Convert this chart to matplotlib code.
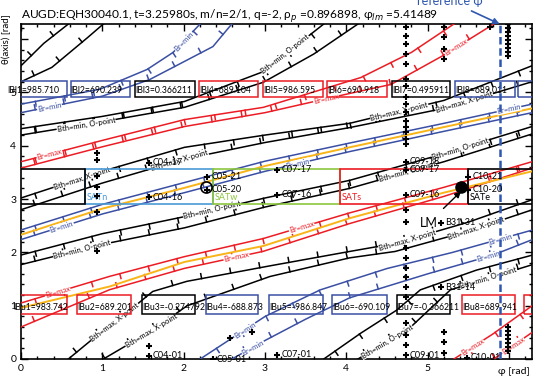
import matplotlib
matplotlib.use("Agg")
import matplotlib.pyplot as plt
import matplotlib.patheffects as pe
from matplotlib.patches import Rectangle
import numpy as np

plt.rcParams['font.family'] = ['Lato', 'DejaVu Sans']

TWO_PI = 2 * np.pi

BLACK = '#000000'
RED = '#ec1c24'
BLUE = '#3a4fa3'
YELLOW = '#f9b418'
LIGHTBLUE = '#4a9ad6'
GREEN = '#8cc63f'

# contour lines, (phi, theta); theta above 2pi wraps to the bottom
k1_phi = [0, 0.28, 0.58, 0.97, 1.34, 1.62, 2.04, 3.06, 4.04, 4.6, 5.5, 6.283]
k1_theta = [5.50, 5.92, 6.28, 6.77, 7.20, 7.55, 7.74, 8.03, 8.30, 8.45, 8.85, 9.27]
k2_phi = [0, 0.38, 0.6, 0.82, 1.01, 1.30, 1.67, 2.04, 3.06, 4.04, 4.6, 5.5, 6.283]
k2_theta = [5.20, 5.47, 5.75, 6.03, 6.28, 6.54, 6.88, 7.28, 7.83, 8.18, 8.30, 8.68, 9.08]
k3_phi = [0, 1.0, 2.01, 2.98, 3.72, 4.18, 4.62, 4.91, 5.6, 6.283]
k3_theta = [4.32, 4.55, 4.83, 5.39, 6.28, 6.77, 7.20, 7.58, 7.95, 8.23]
k4_phi = [0, 1.0, 2.01, 2.98, 3.6, 4.14, 4.79, 5.28, 6.283]
k4_theta = [4.20, 4.45, 4.72, 5.19, 5.72, 6.28, 6.88, 7.58, 8.05]
mid_phi = [0, 1.0, 2.01, 3.0, 4.04, 5.2, 6.283]
k5_theta = [3.02, 3.52, 3.97, 4.20, 4.42, 4.85, 5.50]
k6_theta = [2.80, 3.30, 3.75, 4.06, 4.34, 4.70, 5.20]
k7_theta = [1.95, 2.35, 2.67, 3.02, 3.35, 3.85, 4.36]
k8_theta = [1.77, 2.15, 2.46, 2.85, 3.20, 3.70, 4.22]

r1_phi = [0, 1.0, 2.01, 2.98, 4.18, 4.8, 5.32, 5.8, 6.283]
r1_theta = [3.70, 4.10, 4.49, 4.72, 5.28, 5.75, 6.28, 6.75, 7.28]
r2_phi = [0, 1.0, 2.01, 3.0, 4.04, 4.55, 5.2, 5.81, 6.283]
r2_theta = [3.58, 3.98, 4.36, 4.62, 4.98, 5.15, 5.70, 6.28, 6.78]
band_phi = [0, 1.09, 2.01, 2.98, 4.04, 5.2, 6.283]
r3_theta = [1.05, 1.55, 1.92, 2.26, 2.74, 3.22, 3.70]
r4_theta = [0.60, 1.30, 1.70, 2.02, 2.54, 3.05, 3.58]
y2_theta = [0.96, 1.36, 1.82, 2.12, 2.64, 3.12, 3.52]

b1_phi = [0, 0.97, 1.55, 1.87, 2.2, 2.7, 3.0, 3.68, 4.5, 5.3, 6.283]
b1_theta = [4.78, 5.06, 5.43, 5.75, 6.28, 6.78, 7.08, 7.58, 7.98, 8.28, 8.70]
b2_phi = [0, 1.0, 1.58, 1.87, 2.36, 2.59, 3.0, 3.5, 4.04, 5.0, 5.8, 6.283]
b2_theta = [4.62, 4.93, 5.24, 5.47, 5.86, 6.28, 6.63, 7.03, 7.43, 7.88, 8.23, 8.52]
b3_theta = [2.42, 2.90, 3.31, 3.71, 4.05, 4.42, 4.78]
y1_theta = [2.33, 2.82, 3.21, 3.62, 3.97, 4.35, 4.70]
b4_theta = [2.24, 2.72, 3.12, 3.52, 3.89, 4.27, 4.62]

# (phi, theta, colour, tick side)
lines = {
    'k1': (k1_phi, k1_theta, BLACK, 90),
    'k2': (k2_phi, k2_theta, BLACK, 90),
    'k3': (k3_phi, k3_theta, BLACK, -90),
    'k4': (k4_phi, k4_theta, BLACK, 90),
    'k5': (mid_phi, k5_theta, BLACK, -90),
    'k6': (mid_phi, k6_theta, BLACK, 90),
    'k7': (mid_phi, k7_theta, BLACK, -90),
    'k8': (mid_phi, k8_theta, BLACK, 90),
    'r1': (r1_phi, r1_theta, RED, -90),
    'r2': (r2_phi, r2_theta, RED, 90),
    'r3': (band_phi, r3_theta, RED, -90),
    'r4': (band_phi, r4_theta, RED, 90),
    'b1': (b1_phi, b1_theta, BLUE, -90),
    'b2': (b2_phi, b2_theta, BLUE, 90),
    'b3': (mid_phi, b3_theta, BLUE, -90),
    'b4': (mid_phi, b4_theta, BLUE, 90),
}
yellow_lines = [(band_phi, y2_theta), (mid_phi, y1_theta)]

line_labels = [
    ('k3', 3.25, 'Bth=min, O-point'), ('k4', 0.8, 'Bth=min, O-point'),
    ('b1', 2.0, 'Br=min'), ('b2', 0.35, 'Br=min'), ('r1', 0.35, 'Br=max'),
    ('k6', 1.95, 'Bth=max, X-point'), ('k5', 0.75, 'Bth=max, X-point'),
    ('r2', 3.75, 'Br=max'), ('k5', 4.65, 'Bth=max, X-point'),
    ('k6', 5.45, 'Bth=max, X-point'), ('b3', 6.0, 'Br=min'),
    ('b4', 3.4, 'Br=min'), ('k7', 5.4, 'Bth=min, O-point'),
    ('k8', 4.75, 'Bth=min, O-point'), ('b4', 0.5, 'Br=min'),
    ('k7', 2.35, 'Bth=min, O-point'), ('k8', 0.75, 'Bth=min, O-point'),
    ('r4', 2.65, 'Br=max'), ('r3', 0.45, 'Br=max'), ('r3', 3.45, 'Br=max'),
    ('k1', 4.75, 'Bth=max, X-point'), ('k2', 5.6, 'Bth=max, X-point'),
    ('b1', 5.9, 'Br=min'), ('b2', 5.75, 'Br=min'), ('k4', 5.75, 'Bth=min, O-point'),
    ('k1', 1.15, 'Bth=max, X-point'), ('k2', 1.6, 'Bth=max, X-point'),
    ('b1', 2.75, 'Br=min'), ('b2', 2.85, 'Br=min'), ('k4', 4.5, 'Bth=min, O-point'),
    ('r1', 5.55, 'Br=max'), ('r2', 6.05, 'Br=max'), ('r2', 5.35, 'Br=max'),
]

# coil boxes (phi ranges) and their readings
ibl_left = [-0.17, 0.61, 1.40, 2.19, 2.98, 3.76, 4.56, 5.34, 6.11]
ibl_right = [0.57, 1.34, 2.14, 2.92, 3.71, 4.50, 5.28, 6.08, 6.85]
ibl_colors = [BLUE, BLUE, BLACK, RED, RED, RED, BLACK, BLUE, BLUE]
ibl_text = ['IBl1=985.710', 'IBl2=690.239', 'IBl3=0.366211', 'IBl4=689.104',
            'IBl5=986.595', 'IBl6=690.918', 'IBl7=0.495911', 'IBl8=689.011', '']
ibu_left = [-0.09, 0.69, 1.49, 2.27, 3.05, 3.83, 4.62, 5.42, 6.19]
ibu_right = [0.57, 1.35, 2.14, 2.92, 3.71, 4.50, 5.28, 6.08, 6.85]
ibu_colors = [RED, RED, BLACK, BLUE, BLUE, BLUE, BLACK, RED, RED]
ibu_text = ['IBu1=983.742', 'IBu2=689.201', 'IBu3=-0.274792', 'IBu4=-688.873',
            'IBu5=-986.847', 'IBu6=-690.109', 'IBu7=-0.366211', 'IBu8=689.941', '']

sat_left = [0.785, 2.356, 3.927, 5.498, -0.785]
sat_right = [2.356, 3.927, 5.498, 7.069, 0.785]
sat_colors = [LIGHTBLUE, GREEN, RED, BLACK, BLACK]
sat_text = ['SATn', 'SATw', 'SATs', 'SATe', '']

# probe positions
probe_phi = ([0.93] * 7 + [1.57] * 4 + [2.29, 2.29, 2.57, 2.84, 2.36] + [3.15] * 3
             + [4.73] * 30 + [5.20] * 7 + [5.99] * 16 + [5.77, 5.17, 5.16, 5.50, 5.50, 5.48])
probe_theta = ([3.87, 3.74, 3.44, 3.23, 3.05, 2.76, 2.03]
               + [3.68, 3.03, 0.24, 0.06]
               + [3.42, 3.17, 0.39, 0.51, 0.0]
               + [3.55, 3.08, 0.08]
               + [6.22, 6.05, 5.90, 5.72, 5.53, 5.25, 5.12, 4.91, 4.78, 4.63, 4.46, 4.36, 4.25,
                  4.12, 4.03, 3.70, 3.55, 3.08, 2.80, 2.57, 2.09, 1.90, 1.71, 1.54, 1.35, 1.17,
                  0.68, 0.45, 0.26, 0.07]
               + [6.22, 6.03, 5.81, 5.62, 0.51, 0.32, 0.11]
               + [6.28, 6.20, 6.13, 6.05, 5.98, 5.90, 5.83, 5.75, 5.68,
                  0.60, 0.53, 0.45, 0.38, 0.30, 0.23, 0.15]
               + [6.22, 2.56, 1.35, 3.42, 3.17, 0.02])
probe_names = [('C04-17', 1.57, 3.68), ('C04-16', 1.57, 3.03), ('C04-01', 1.57, 0.06),
               ('C05-21', 2.29, 3.42), ('C05-20', 2.29, 3.17), ('C05-01', 2.36, 0.0),
               ('C07-17', 3.15, 3.55), ('C07-16', 3.15, 3.08), ('C07-01', 3.15, 0.08),
               ('C09-18', 4.73, 3.70), ('C09-17', 4.73, 3.55), ('C09-16', 4.73, 3.08),
               ('C09-01', 4.73, 0.07), ('C10-21', 5.50, 3.42), ('C10-20', 5.50, 3.17),
               ('C10-01', 5.48, 0.02), ('B31-31', 5.17, 2.56), ('B31-14', 5.16, 1.35)]

phi_lm, theta_lm = 5.41489, 3.23
phi_ref = 5.885

fig = plt.figure(figsize=(5.34, 3.79), dpi=100)
ax = fig.add_axes([21 / 534, 20 / 379, 511 / 534, 335 / 379])
ax.set_xlim(0, TWO_PI)
ax.set_ylim(0, TWO_PI)

# contour lines with hatch ticks, drawn twice so the part above 2pi shows at the bottom
for name, (ph, th, col, side) in lines.items():
    th = np.array(th)
    for shift in (0, TWO_PI):
        ax.plot(ph, th - shift, color=col, lw=1.1, zorder=3,
                path_effects=[pe.withTickedStroke(spacing=21, angle=side, length=0.17)])
for ph, th in yellow_lines:
    ax.plot(ph, th, color=YELLOW, lw=1.4, zorder=3)

for name, p, txt in line_labels:
    ph, th, col, side = lines[name]
    t = np.interp(p, ph, th)
    dp = 0.05
    ang = np.degrees(np.arctan2(np.interp(p + dp, ph, th) - np.interp(p - dp, ph, th), 2 * dp))
    ax.text(p, t % TWO_PI, txt, color=col, fontsize=5.5, ha='center', va='center',
            rotation=ang, rotation_mode='anchor', transform_rotates_text=True, zorder=4,
            bbox=dict(fc='white', ec='none', pad=0.2))

# coil boxes
for l, r, c, s in zip(ibl_left, ibl_right, ibl_colors, ibl_text):
    ax.add_patch(Rectangle((l, 4.92), r - l, 0.29, fill=False, ec=c, lw=1.1, zorder=5))
    ax.text(l, 4.95, s, fontsize=6.2, ha='left', va='bottom', zorder=6, clip_on=False)
for l, r, c, s in zip(ibu_left, ibu_right, ibu_colors, ibu_text):
    ax.add_patch(Rectangle((l, 0.85), r - l, 0.35, fill=False, ec=c, lw=1.1, zorder=5))
    ax.text(l, 0.88, s, fontsize=6.2, ha='left', va='bottom', zorder=6, clip_on=False)
for l, r, c, s in zip(sat_left, sat_right, sat_colors, sat_text):
    ax.add_patch(Rectangle((l, 2.91), r - l, 0.66, fill=False, ec=c, lw=1.2, zorder=5))
    ax.text(l + 0.02, 2.94, s, color=c, fontsize=6.5, ha='left', va='bottom', zorder=6)

# probes
ax.plot(probe_phi, probe_theta, ls='none', marker='+', ms=5, mew=1.5, color=BLACK, zorder=7)
for s, p, t in probe_names:
    ax.text(p + 0.05, t, s, fontsize=6.5, ha='left', va='center', zorder=7)
ax.plot([2.27], [3.23], ls='none', marker='o', ms=8, mfc='none', mec=BLACK, mew=1.2, zorder=7)
ax.plot([phi_lm], [theta_lm], ls='none', marker='o', ms=8, color=BLACK, zorder=8)
ax.annotate('LM', xy=(phi_lm + 0.02, theta_lm - 0.05), xytext=(5.01, 2.55), fontsize=9,
            ha='center', va='center', zorder=8,
            arrowprops=dict(arrowstyle='-|>', color=BLACK, lw=1.0, shrinkA=6, shrinkB=2))

ax.axvline(phi_ref, color='#2f57b0', lw=1.8, ls=(0, (3, 1.5)), zorder=6)
ax.annotate('reference φ', xy=(phi_ref, TWO_PI), xycoords='data',
            xytext=(450, 378), textcoords='figure pixels', color='#2f57b0', fontsize=9,
            ha='center', va='center', annotation_clip=False,
            arrowprops=dict(arrowstyle='-|>', color='#2f57b0', lw=1.2, shrinkA=2, shrinkB=0))

ax.set_xticks(range(7))
ax.set_xticklabels(['0', '1', '2', '3', '4', '5', ''])
ax.set_yticks(range(7))
ax.set_yticklabels(['0', '1', '2', '3', '4', '5', ''])
ax.set_xticks(np.arange(0, 6.3, 0.2), minor=True)
ax.set_yticks(np.arange(0, 6.3, 0.2), minor=True)
ax.tick_params(which='both', direction='in', top=True, right=True, labelsize=7.5, width=1.0)
ax.tick_params(which='major', length=5)
ax.tick_params(which='minor', length=2.5)
for sp in ax.spines.values():
    sp.set_linewidth(1.2)

fig.text(21 / 534, 1 - 18 / 379,
         'AUGD:EQH30040.1, t=3.25980s, m/n=2/1, q=-2, ρ$_p$ =0.896898, φ$_{lm}$ =5.41489',
         fontsize=8.6, ha='left', va='baseline')
fig.text(0.012, 1 - 14 / 379, 'θ(axis) [rad]', rotation=90, fontsize=7, ha='center', va='top')
fig.text(1 - 4 / 534, 3 / 379, 'φ [rad]', fontsize=7.5, ha='right', va='bottom')

fig.savefig('out.png', dpi=100)
